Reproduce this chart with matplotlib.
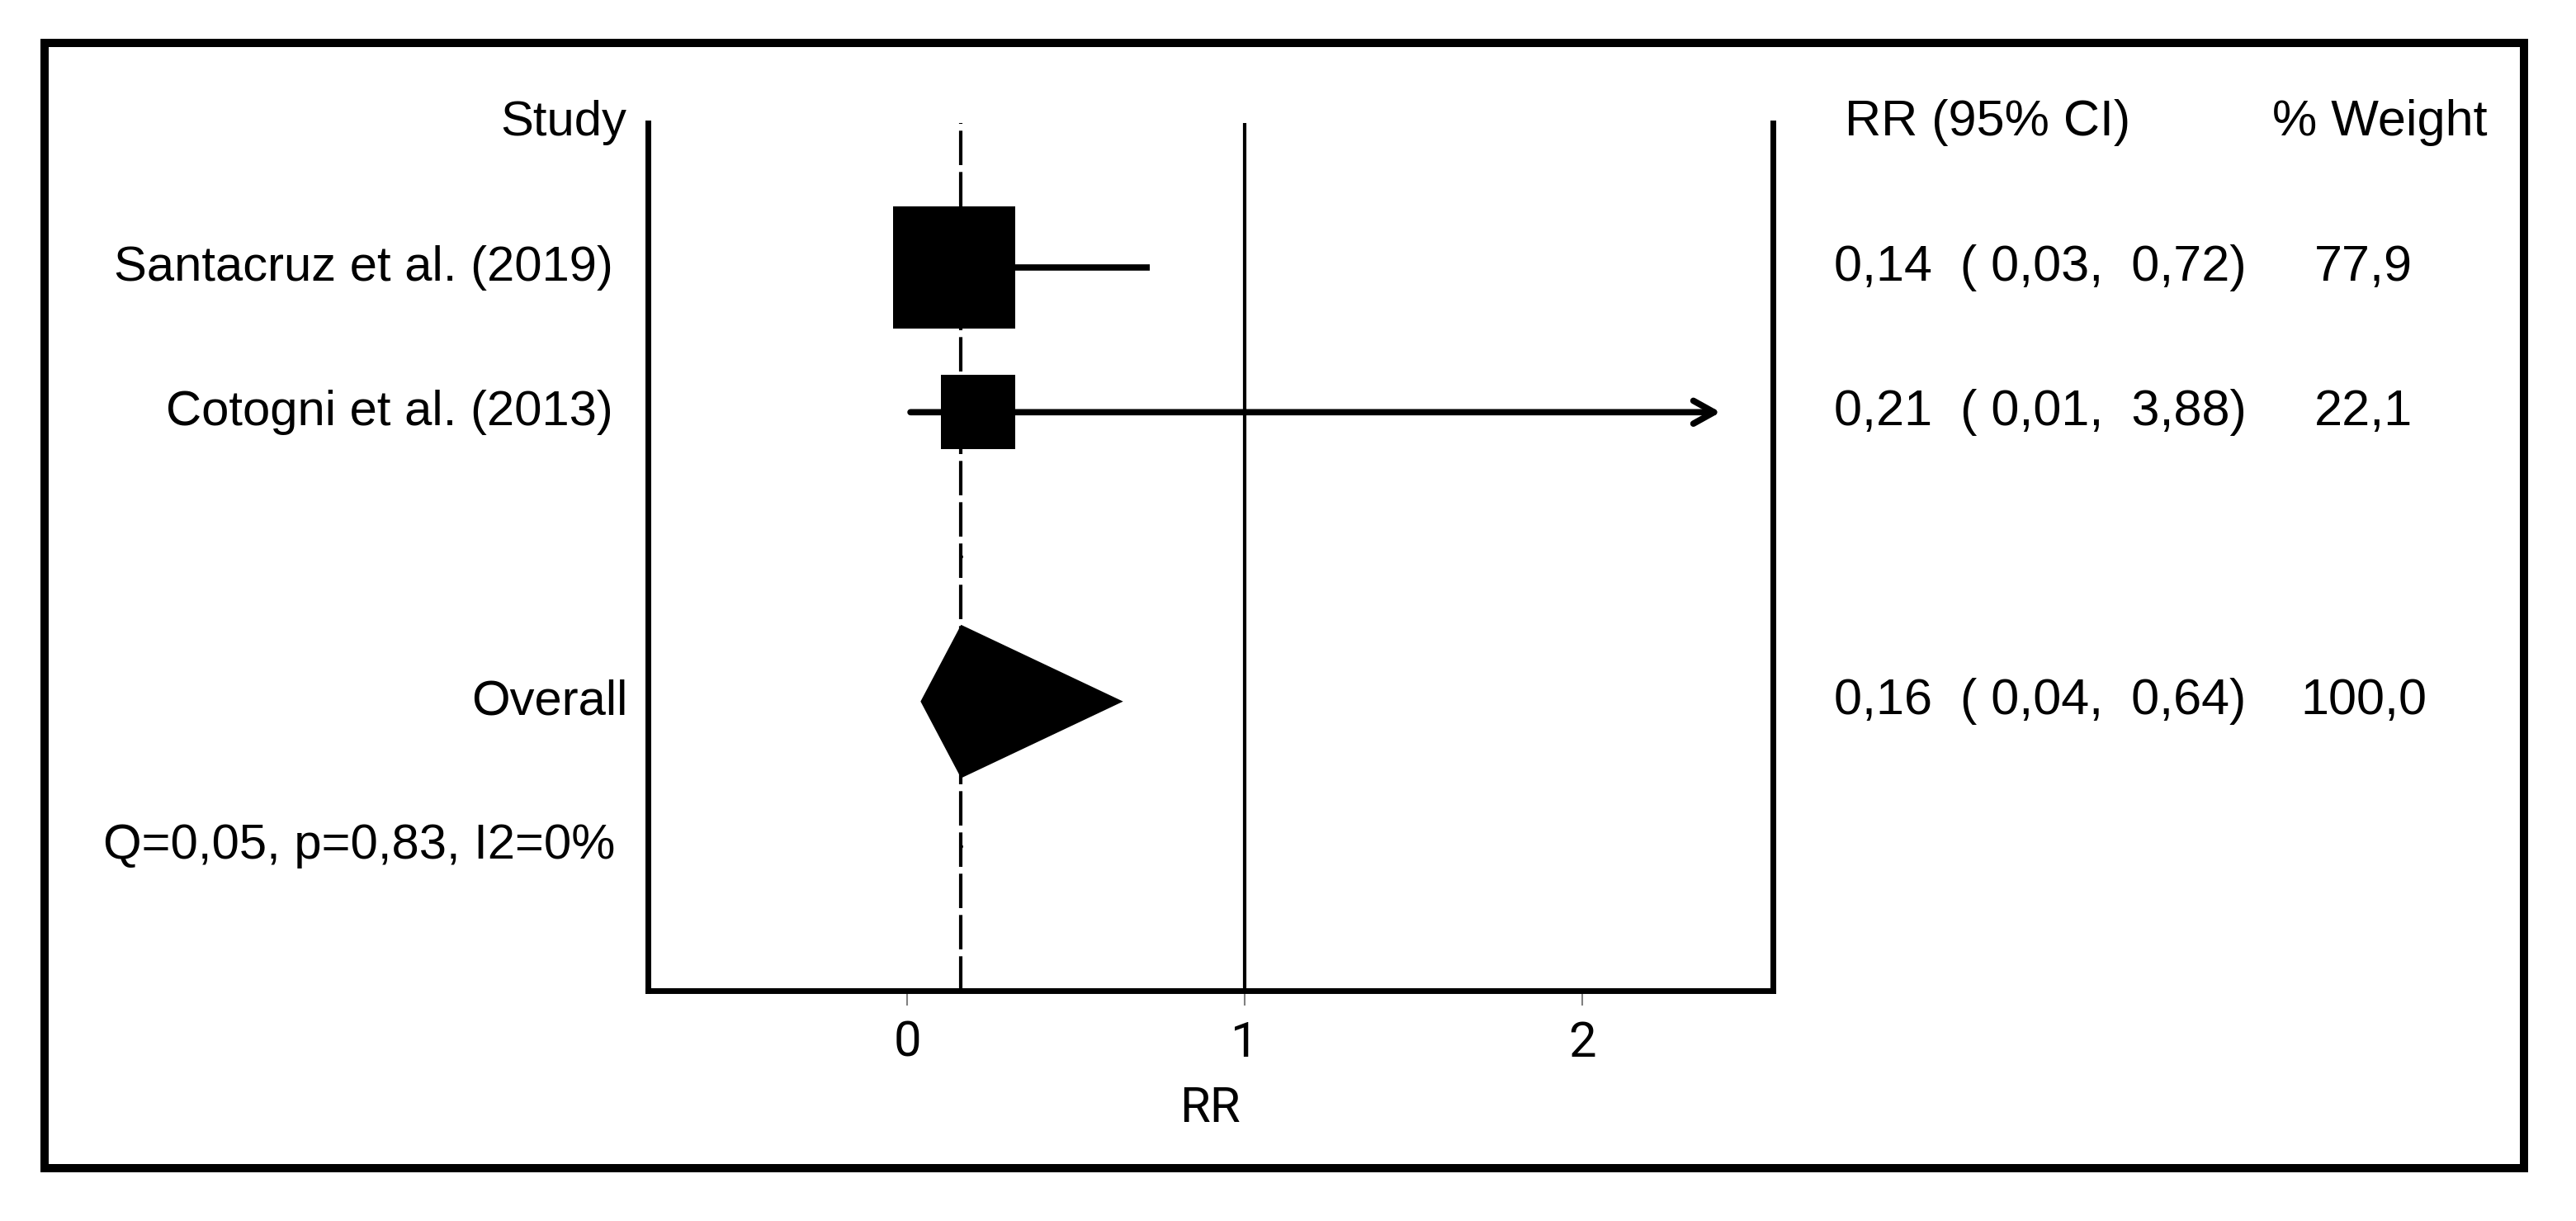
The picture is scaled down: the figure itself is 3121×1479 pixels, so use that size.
import matplotlib.pyplot as plt
from matplotlib.patches import Rectangle
from matplotlib.transforms import blended_transform_factory

plt.rcParams["font.family"] = ["Liberation Sans", "DejaVu Sans"]

# data
studies = ["Santacruz et al. (2019)", "Cotogni et al. (2013)"]
rr = [0.14, 0.21]
ci_low = [0.03, 0.01]
ci_high = [0.72, 3.88]
weights = [77.9, 22.1]

overall_rr = 0.16
overall_low = 0.04
overall_high = 0.64
overall_weight = 100.0
heterogeneity = "Q=0,05, p=0,83, I2=0%"

x_ticks = [0, 1, 2]


def fmt(v, d=2):
    return f"{v:.{d}f}".replace(".", ",")


# layout
study_rows = [1, 2]
overall_row = 4
het_row = 5
x_clip = 2.41

fig = plt.figure(figsize=(31.21, 14.79), dpi=100)
ax = fig.add_axes([0.2515, 0.1886, 0.4367, 0.7107])
ax.set_xlim(-0.768, 2.565)
ax.set_ylim(6, 0)

for side in ["left", "right", "bottom"]:
    ax.spines[side].set_linewidth(5)
ax.spines["top"].set_visible(False)
ax.set_yticks([])
ax.set_xticks(x_ticks)
ax.tick_params(axis="x", length=13, width=1.5, color="#808080", pad=12, labelsize=43)
for lbl in ax.get_xticklabels():
    lbl.set_fontfamily("Roboto")
ax.set_xlabel("RR", fontsize=43, family="Roboto", labelpad=16)

# reference lines
ax.axvline(1, color="black", lw=3, zorder=1)
ax.axvline(overall_rr, color="black", lw=3, dashes=(10, 2), zorder=1)

# studies
for est, lo, hi, w, row in zip(rr, ci_low, ci_high, weights, study_rows):
    if hi > x_clip:
        ax.annotate(
            "",
            xy=(x_clip, row),
            xytext=(lo, row),
            arrowprops=dict(
                arrowstyle="->,head_length=0.9,head_width=0.5",
                lw=5.5,
                color="black",
                shrinkA=0,
                shrinkB=0,
                mutation_scale=20,
            ),
            zorder=2,
        )
    else:
        ax.plot([lo, hi], [row, row], color="black", lw=5.5, solid_capstyle="butt", zorder=2)
    ax.plot(est, row, marker="s", ms=18.6 * w**0.4, color="black", mew=0, zorder=3)

# overall diamond
h = 0.53
ax.fill(
    [overall_low, overall_rr, overall_high, overall_rr],
    [overall_row, overall_row - h, overall_row, overall_row + h],
    color="black",
    lw=0,
    zorder=3,
)
ax.plot([overall_rr, overall_rr], [3, het_row], ls="none", marker="o", ms=2.5, color="black")

# text columns
tr = blended_transform_factory(ax.transAxes, ax.transData)
ax.text(-0.019, 0, "Study", transform=tr, ha="right", va="center", fontsize=43)
for name, row in zip(studies, study_rows):
    ax.text(-0.031, row, name, transform=tr, ha="right", va="center", fontsize=43)
ax.text(-0.018, overall_row, "Overall", transform=tr, ha="right", va="center", fontsize=43)
ax.text(-0.029, het_row, heterogeneity, transform=tr, ha="right", va="center", fontsize=43)

ax.text(1.0638, 0, "RR (95% CI)", transform=tr, ha="left", va="center", fontsize=44)
ax.text(1.4439, 0, "% Weight", transform=tr, ha="left", va="center", fontsize=44)
rows_est = list(zip(rr, ci_low, ci_high, weights, study_rows))
rows_est.append((overall_rr, overall_low, overall_high, overall_weight, overall_row))
for est, lo, hi, w, row in rows_est:
    ax.text(1.0543, row, f"{fmt(est)}  ( {fmt(lo)},  {fmt(hi)})", transform=tr,
            ha="left", va="center", fontsize=44)
    ax.text(1.5253, row, fmt(w, 1), transform=tr, ha="center", va="center", fontsize=44)

# outer frame
fig.add_artist(Rectangle((0.0173, 0.0433), 0.9625, 0.9216, transform=fig.transFigure,
                         fill=False, lw=7.2, edgecolor="black"))

fig.savefig("out.png", dpi=100)
